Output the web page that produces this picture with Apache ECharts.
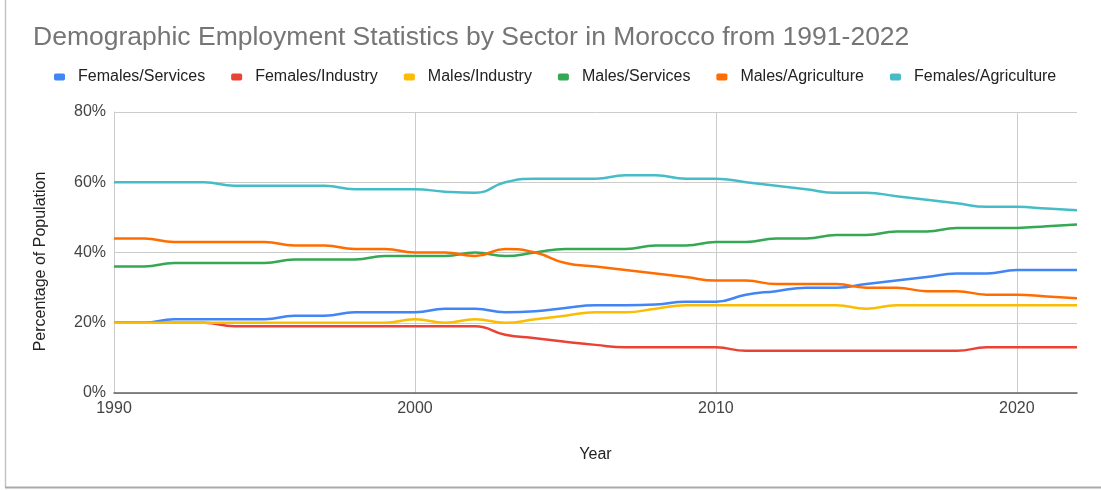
<!DOCTYPE html>
<html>
<head>
<meta charset="utf-8">
<title>Demographic Employment Statistics by Sector in Morocco</title>
<script src="https://cdn.jsdelivr.net/npm/echarts@6/dist/echarts.min.js"></script>
<style>
  html, body { margin: 0; padding: 0; background: #ffffff; }
  #chart { width: 1101px; height: 490px; }
</style>
</head>
<body>
<div id="chart"></div>
<script>
// Years on the horizontal axis
const years = [1990, 1991, 1992, 1993, 1994, 1995, 1996, 1997, 1998, 1999,
               2000, 2001, 2002, 2003, 2004, 2005, 2006, 2007, 2008, 2009,
               2010, 2011, 2012, 2013, 2014, 2015, 2016, 2017, 2018, 2019,
               2020, 2021, 2022];

// Share of the employed population (%) per sector and sex
const femalesServices = [20, 20, 21, 21, 21, 21, 22, 22, 23, 23,
                         23, 24, 24, 23, 23.3, 24.2, 25, 25, 25.2, 26,
                         26, 28, 29, 30, 30, 31, 32, 33, 34, 34,
                         35, 35, 35];
const femalesIndustry = [20, 20, 20, 20, 19, 19, 19, 19, 19, 19,
                         19, 19, 19, 16.6, 15.6, 14.6, 13.7, 13, 13, 13,
                         13, 12, 12, 12, 12, 12, 12, 12, 12, 13,
                         13, 13, 13];
const malesIndustry = [20, 20, 20, 20, 20, 20, 20, 20, 20, 20,
                       21, 20, 21, 20, 21, 22, 23, 23, 24, 25,
                       25, 25, 25, 25, 25, 24, 25, 25, 25, 25,
                       25, 25, 25];
const malesServices = [36, 36, 37, 37, 37, 37, 38, 38, 38, 39,
                       39, 39, 40, 39, 40, 41, 41, 41, 42, 42,
                       43, 43, 44, 44, 45, 45, 46, 46, 47, 47,
                       47, 47.5, 48];
const malesAgriculture = [44, 44, 43, 43, 43, 43, 42, 42, 41, 41,
                          40, 40, 39, 41, 40, 37, 36, 35, 34, 33,
                          32, 32, 31, 31, 31, 30, 30, 29, 29, 28,
                          28, 27.5, 27];
const femalesAgriculture = [60, 60, 60, 60, 59, 59, 59, 59, 58, 58,
                            58, 57.3, 57, 60, 61, 61, 61, 62, 62, 61,
                            61, 60, 59, 58, 57, 57, 56, 55, 54, 53,
                            53, 52.5, 52];

// Y-axis ticks (%)
const yTicks = [0, 20, 40, 60, 80];
// X-axis ticks (years)
const xTicks = [1990, 2000, 2010, 2020];

const seriesDefs = [
  { name: 'Females/Services', values: femalesServices, color: '#4285F4' },
  { name: 'Females/Industry', values: femalesIndustry, color: '#EA4335' },
  { name: 'Males/Industry', values: malesIndustry, color: '#FBBC04' },
  { name: 'Males/Services', values: malesServices, color: '#34A853' },
  { name: 'Males/Agriculture', values: malesAgriculture, color: '#FF6D01' },
  { name: 'Females/Agriculture', values: femalesAgriculture, color: '#46BDC6' }
];

const FONT = '"Liberation Sans", Arial, sans-serif';

const chart = echarts.init(document.getElementById('chart'), null, { renderer: 'canvas' });

chart.setOption({
  backgroundColor: '#ffffff',
  animation: false,
  color: seriesDefs.map(s => s.color),
  title: {
    text: 'Demographic Employment Statistics by Sector in Morocco from 1991-2022',
    left: 33,
    top: 24,
    padding: 0,
    textStyle: { fontFamily: FONT, fontSize: 26.5, fontWeight: 'normal', color: '#757575' }
  },
  legend: {
    left: 54,
    top: 69,
    padding: 0,
    itemGap: 26,
    itemWidth: 11,
    itemHeight: 7,
    icon: 'roundRect',
    textStyle: { fontFamily: FONT, fontSize: 16, color: '#222222', padding: [0, 0, 0, 8] },
    data: seriesDefs.map(s => s.name)
  },
  grid: { left: 114, right: 24, top: 112, bottom: 97, containLabel: false },
  xAxis: {
    type: 'value',
    min: xTicks[0],
    max: years[years.length - 1],
    interval: 10,
    name: 'Year',
    nameLocation: 'middle',
    nameGap: 54,
    nameTextStyle: { fontFamily: FONT, fontSize: 16, color: '#222222' },
    axisLine: { show: true, lineStyle: { color: '#616161', width: 1.5 } },
    axisTick: { show: false },
    axisLabel: {
      showMaxLabel: false,
      margin: 8,
      fontFamily: FONT, fontSize: 16, color: '#444444',
      formatter: v => String(v)
    },
    splitLine: { show: true, showMaxLine: false, lineStyle: { color: '#cccccc', width: 1 } }
  },
  yAxis: {
    type: 'value',
    min: yTicks[0],
    max: yTicks[yTicks.length - 1],
    interval: 20,
    name: 'Percentage of Population',
    nameLocation: 'middle',
    nameGap: 65,
    nameTextStyle: { fontFamily: FONT, fontSize: 16, color: '#222222', padding: [0, 18, 0, 0] },
    axisLine: { show: true, lineStyle: { color: '#cccccc', width: 1 } },
    axisTick: { show: false },
    axisLabel: {
      margin: 8,
      fontFamily: FONT, fontSize: 16, color: '#444444',
      formatter: '{value}%'
    },
    splitLine: { show: true, lineStyle: { color: '#cccccc', width: 1 } }
  },
  series: seriesDefs.map(s => ({
    name: s.name,
    type: 'line',
    smooth: 0.5,
    showSymbol: false,
    symbol: 'none',
    lineStyle: { width: 2.5, color: s.color },
    itemStyle: { color: s.color },
    data: years.map((y, i) => [y, s.values[i]])
  })),
  graphic: [
    // card edge: left and bottom shadowed border
    {
      type: 'line',
      shape: { x1: 5.5, y1: 0, x2: 5.5, y2: 487 },
      style: { stroke: '#c4c4c4', lineWidth: 1.5 },
      z: 100
    },
    {
      type: 'line',
      shape: { x1: 5, y1: 487.5, x2: 1101, y2: 487.5 },
      style: { stroke: '#a9a9a9', lineWidth: 2 },
      z: 100
    }
  ]
});
</script>
</body>
</html>
